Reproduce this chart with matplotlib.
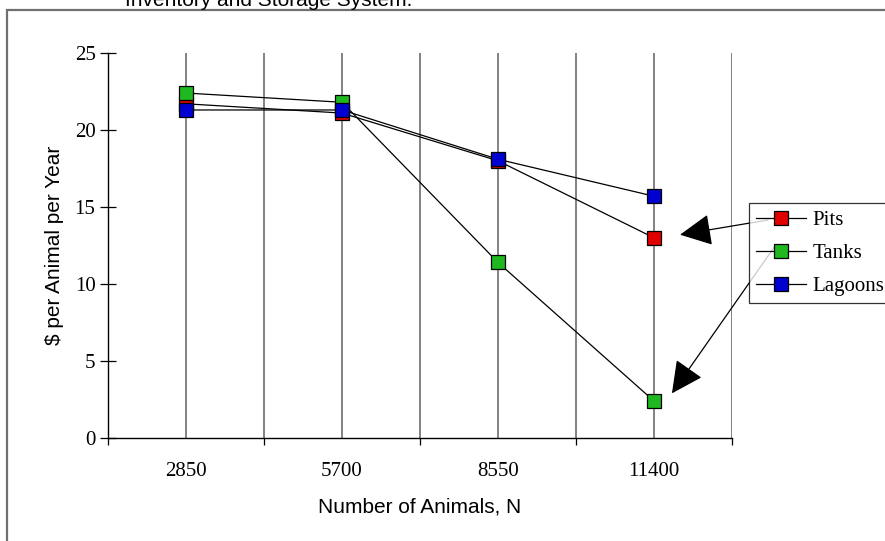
import matplotlib
matplotlib.use("Agg")
import matplotlib.pyplot as plt
import matplotlib.patches as patches

animals = ["2850", "5700", "8550", "11400"]
pits = [21.7, 21.1, 18.0, 13.0]
tanks = [22.4, 21.8, 11.4, 2.4]
lagoons = [21.3, 21.3, 18.1, 15.7]

serif = "Liberation Serif"
sans = "Liberation Sans"

fig = plt.figure(figsize=(8.85, 5.41), dpi=100)
ax = fig.add_axes([108/885, 1 - 438/541, 624/885, 385/541])

# outer frame of the original page figure
fig.patches.append(patches.Rectangle((7/885, -0.05), 1.2, 1 - 10/541 + 0.05,
                                     transform=fig.transFigure, fill=False,
                                     edgecolor="#707070", linewidth=1.6))
fig.text(125/885, 1.0, "Inventory and Storage System.", family=sans,
         fontsize=15, ha="left", va="center")

x = list(range(len(animals)))
style = dict(color="black", linewidth=0.9, marker="s", markersize=9.5,
             markeredgecolor="black", markeredgewidth=0.9)
ax.plot(x, pits, markerfacecolor="#e00000", label="Pits", **style)
ax.plot(x, tanks, markerfacecolor="#20b820", label="Tanks", **style)
ax.plot(x, lagoons, markerfacecolor="#0000d0", label="Lagoons", **style)

ax.set_xlim(-0.5, len(animals) - 0.5)
ax.set_ylim(0, 25)
ax.set_xticks(x)
ax.set_xticklabels(animals, family=serif, fontsize=15)
ax.set_xticks([i - 0.5 for i in range(len(animals) + 1)], minor=True)
ax.set_yticks(range(0, 26, 5))
ax.set_yticklabels([str(v) for v in range(0, 26, 5)], family=serif, fontsize=15)
ax.tick_params(axis="x", which="major", length=0, pad=17)
ax.tick_params(axis="x", which="minor", length=5, direction="out", width=0.9)
ax.tick_params(axis="y", length=12, direction="inout", width=0.9, pad=3)
ax.grid(axis="x", which="both", color="#606060", linewidth=1.1)
ax.set_axisbelow(True)

for s in ["top", "right"]:
    ax.spines[s].set_visible(False)
for s in ["left", "bottom"]:
    ax.spines[s].set_linewidth(1.0)

ax.set_xlabel("Number of Animals, N", family=sans, fontsize=15, labelpad=12)
ax.set_ylabel("$ per Animal per Year", family=sans, fontsize=15, labelpad=8)

leg = ax.legend(loc="upper left", bbox_to_anchor=(749/885, 1 - 203/541),
                bbox_transform=fig.transFigure, frameon=True, fancybox=False,
                prop={"family": serif, "size": 15}, handlelength=2.4,
                borderpad=0.35, labelspacing=0.65, handletextpad=0.3,
                borderaxespad=0)
leg.get_frame().set_edgecolor("black")
leg.get_frame().set_linewidth(0.9)

arrow = dict(arrowstyle="-|>,head_length=1.0,head_width=0.5", color="black",
             linewidth=0.9, shrinkA=0, shrinkB=0, mutation_scale=20)
ax.annotate("", xy=(3.167, 13.2), xycoords="data",
            xytext=(768/885, 1 - 220/541), textcoords="figure fraction",
            arrowprops=arrow)
ax.annotate("", xy=(3.115, 2.9), xycoords="data",
            xytext=(775/885, 1 - 246/541), textcoords="figure fraction",
            arrowprops=arrow)

fig.savefig("out.png", dpi=100)
